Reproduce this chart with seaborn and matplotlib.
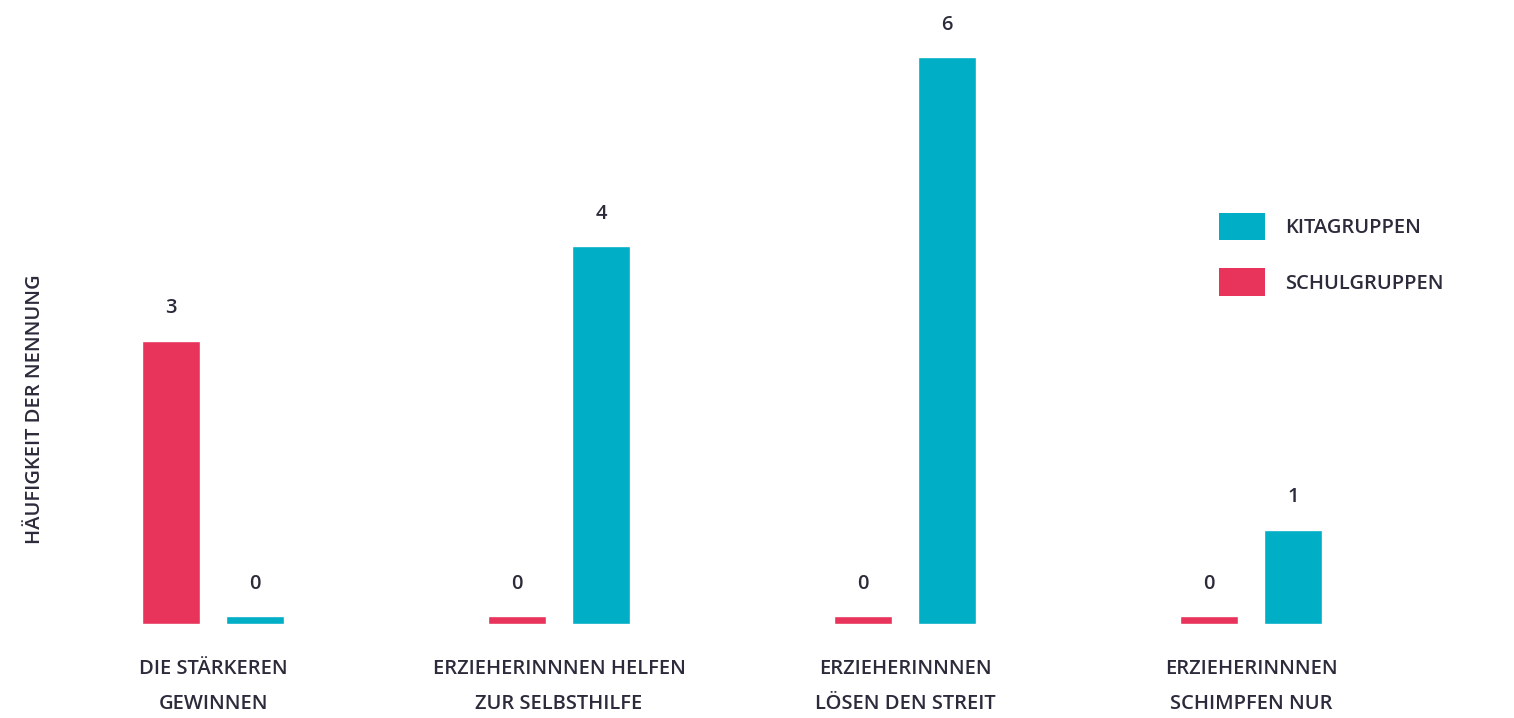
import pandas as pd
import matplotlib
matplotlib.use("Agg")
import matplotlib.pyplot as plt
import seaborn as sns
from matplotlib.patches import Patch

# Data
kategorien = [
    "DIE STÄRKEREN\nGEWINNEN",
    "ERZIEHERINNNEN HELFEN\nZUR SELBSTHILFE",
    "ERZIEHERINNNEN\nLÖSEN DEN STREIT",
    "ERZIEHERINNNEN\nSCHIMPFEN NUR",
]
schulgruppen = [3, 0, 0, 0]
kitagruppen = [0, 4, 6, 1]
gruppen = ["SCHULGRUPPEN", "KITAGRUPPEN"]
farben = {"SCHULGRUPPEN": "#E8335B", "KITAGRUPPEN": "#00AEC6"}
textfarbe = "#2B2B3B"

df = pd.DataFrame({
    "kategorie": kategorien * 2,
    "gruppe": [gruppen[0]] * 4 + [gruppen[1]] * 4,
    "wert": schulgruppen + kitagruppen,
})
# zero values are shown as a thin stub
stub = 0.085
df["hoehe"] = df["wert"].where(df["wert"] > 0, stub)

sns.set_style("white")
plt.rcParams["font.family"] = ["Open Sans", "DejaVu Sans"]
gewicht = "semibold"
groesse = 14.5

fig = plt.figure(figsize=(15.14, 7.18), dpi=100)
W, H = 1514, 718
x0, x1 = 40, 1424
y_base, y_top = 624, 57
ax = fig.add_axes([x0 / W, (H - y_base) / H, (x1 - x0) / W, (y_base - y_top) / H])

sns.barplot(
    data=df, x="kategorie", y="hoehe", hue="gruppe",
    hue_order=gruppen, order=kategorien, palette=farben,
    width=0.485, gap=0.31, ax=ax, legend=False, saturation=1,
)

for cont, g in zip(ax.containers, gruppen):
    werte = df.loc[df["gruppe"] == g, "wert"].tolist()
    ax.bar_label(cont, labels=[str(v) for v in werte], padding=16,
                 fontsize=groesse, color=textfarbe, fontweight=gewicht)

ax.set_xlim(-0.5, 3.5)
ax.set_ylim(0, 6)
ax.set_xlabel("")
ax.set_ylabel("")
ax.set_yticks([])
ax.tick_params(axis="x", length=0, pad=25)
ax.set_xticks(range(len(kategorien)))
ax.set_xticklabels(kategorien, fontsize=groesse, color=textfarbe,
                   fontweight=gewicht, linespacing=2.05)
sns.despine(ax=ax, left=True, bottom=True)

fig.text(35 / W, (H - 409) / H, "HÄUFIGKEIT DER NENNUNG", rotation=90,
         ha="center", va="center", fontsize=groesse, color=textfarbe,
         fontweight=gewicht)

handles = [Patch(facecolor=farben[g], edgecolor="none") for g in gruppen[::-1]]
fig.legend(handles, gruppen[::-1], loc="upper left",
           bbox_to_anchor=(1219 / W, (H - 213) / H), frameon=False,
           prop={"size": groesse, "weight": gewicht}, labelcolor=textfarbe,
           handlelength=2.3, handleheight=1.7, labelspacing=1.4,
           handletextpad=1.0, borderpad=0, borderaxespad=0)

fig.savefig("out.png", dpi=100)
